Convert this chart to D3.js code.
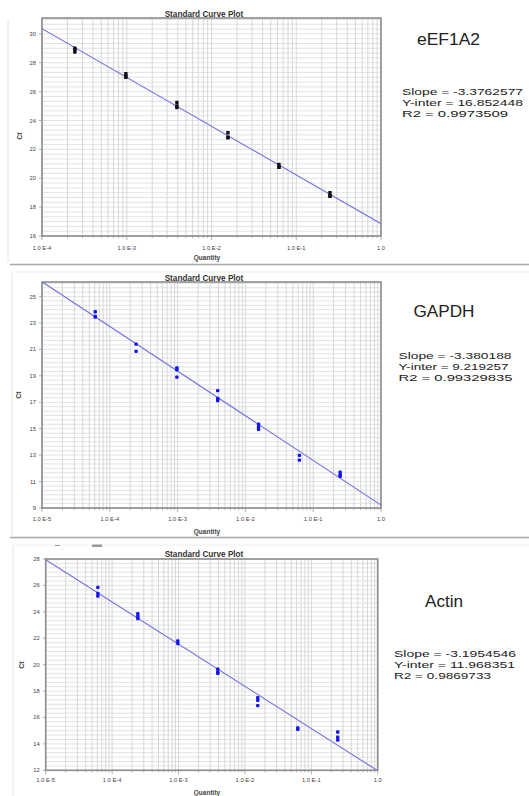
<!DOCTYPE html>
<html><head><meta charset="utf-8">
<script src="https://cdn.jsdelivr.net/npm/d3@7"></script>
<style>html,body{margin:0;padding:0;background:#fff;} svg{display:block;}</style>
</head><body><svg id="c" width="529" height="796"></svg>
<script>
// ---------- data ----------
const geneNames = ["eEF1A2", "GAPDH", "Actin"];
const slopes = [-3.3762577, -3.380188, -3.1954546];
const intercepts = [16.852448, 9.219257, 11.968351];
const r2Values = ["0.9973509", "0.99329835", "0.9869733"];
const slopeText = ["-3.3762577", "-3.380188", "-3.1954546"];
const interText = ["16.852448", "9.219257", "11.968351"];

const qtyEEF = [0.000244140625, 0.0009765625, 0.00390625, 0.015625, 0.0625, 0.25];
const qtyGAPDH = [0.00006103515625, 0.000244140625, 0.0009765625, 0.00390625, 0.015625, 0.0625, 0.25];
const qtyActin = [0.00006103515625, 0.000244140625, 0.0009765625, 0.00390625, 0.015625, 0.0625, 0.25];

const ctEEF = [[28.75, 28.9, 29.0], [27.0, 27.1, 27.25], [25.25, 25.0, 24.9], [23.15, 22.85, 22.8], [20.95, 20.75, 20.8], [19.0, 18.8, 18.75]];
const ctGAPDH = [[23.85, 23.5, 23.45], [21.4, 20.85], [19.6, 19.45, 18.9], [17.88, 17.28, 17.13], [15.35, 15.15, 14.95], [12.98, 12.62], [11.7, 11.5, 11.4]];
const ctActin = [[25.85, 25.4, 25.2], [23.85, 23.65, 23.5], [21.8, 21.6], [19.65, 19.4, 19.35], [17.5, 17.3, 16.9], [15.2, 15.1], [14.9, 14.5, 14.3]];

const xDomEEF = [1e-4, 1];
const xDomGAPDH = [1e-5, 1];
const xDomActin = [1e-5, 1];
const yDomEEF = [16, 31.1];
const yDomGAPDH = [9, 26.1];
const yDomActin = [12, 28];

const yTicksEEF = [16, 18, 20, 22, 24, 26, 28, 30];
const yTicksGAPDH = [9, 11, 13, 15, 17, 19, 21, 23, 25];
const yTicksActin = [12, 14, 16, 18, 20, 22, 24, 26, 28];

const xTickValsEEF = [1e-4, 1e-3, 1e-2, 1e-1, 1];
const xTickLabelsEEF = ["1.0 E-4", "1.0 E-3", "1.0 E-2", "1.0 E-1", "1.0"];
const xTickValsB = [1e-5, 1e-4, 1e-3, 1e-2, 1e-1, 1];
const xTickLabelsB = ["1.0 E-5", "1.0 E-4", "1.0 E-3", "1.0 E-2", "1.0 E-1", "1.0"];

const chartTitle = "Standard Curve Plot";
const xAxisTitle = "Quantity";
const yAxisTitle = "Ct";

// ---------- layout ----------
const panels = [
  {qty: qtyEEF, ct: ctEEF, xd: xDomEEF, yd: yDomEEF, yt: yTicksEEF, xtv: xTickValsEEF, xtl: xTickLabelsEEF, i: 0,
   L: {x0: 42, x1: 381, y0: 18, y1: 236, titleY: 16.5, xlabY: 249.5, qY: 259.5, ctY: 136, ctX: 22},
   color: "#111", T: {nameX: 417, nameY: 45, nameW: 63, sx: 402, sy: 94.5, lw: [121, 121, 106]}},
  {qty: qtyGAPDH, ct: ctGAPDH, xd: xDomGAPDH, yd: yDomGAPDH, yt: yTicksGAPDH, xtv: xTickValsB, xtl: xTickLabelsB, i: 1,
   L: {x0: 42, x1: 381, y0: 282, y1: 508, titleY: 280.5, xlabY: 520.5, qY: 533.5, ctY: 395, ctX: 21},
   color: "#1414f0", T: {nameX: 413.5, nameY: 316.5, nameW: 61, sx: 398.5, sy: 358.5, lw: [113, 110, 114]}},
  {qty: qtyActin, ct: ctActin, xd: xDomActin, yd: yDomActin, yt: yTicksActin, xtv: xTickValsB, xtl: xTickLabelsB, i: 2,
   L: {x0: 45.7, x1: 377.7, y0: 559, y1: 770.3, titleY: 556.5, xlabY: 781.5, qY: 795, ctY: 665, ctX: 24},
   color: "#1414f0", T: {nameX: 425, nameY: 606.5, nameW: 38, sx: 394, sy: 656.5, lw: [122, 121, 97]}}
];

const svg = d3.select("#c");
const FONT = "'Liberation Sans', Arial, Helvetica, sans-serif";

// background
svg.append("rect").attr("width", 529).attr("height", 796).attr("fill", "#fff");

// panel frames / separators (screenshot borders)
svg.append("line").attr("x1", 8).attr("x2", 8).attr("y1", 20).attr("y2", 262).attr("stroke", "#e4e4e4").attr("stroke-width", 1);
svg.append("line").attr("x1", 12).attr("x2", 12).attr("y1", 272).attr("y2", 536).attr("stroke", "#e4e4e4").attr("stroke-width", 1);
svg.append("line").attr("x1", 12).attr("x2", 529).attr("y1", 272).attr("y2", 272).attr("stroke", "#eeeeee").attr("stroke-width", 1);
svg.append("line").attr("x1", 13).attr("x2", 13).attr("y1", 545).attr("y2", 796).attr("stroke", "#e4e4e4").attr("stroke-width", 1);
svg.append("line").attr("x1", 13).attr("x2", 529).attr("y1", 545).attr("y2", 545).attr("stroke", "#eeeeee").attr("stroke-width", 1);
svg.append("line").attr("x1", 10).attr("x2", 529).attr("y1", 264.5).attr("y2", 264.5).attr("stroke", "#a9a9a9").attr("stroke-width", 1.6);
svg.append("line").attr("x1", 10).attr("x2", 529).attr("y1", 537.5).attr("y2", 537.5).attr("stroke", "#a9a9a9").attr("stroke-width", 1.6);
svg.append("line").attr("x1", 55).attr("x2", 60).attr("y1", 545.5).attr("y2", 545.5).attr("stroke", "#999").attr("stroke-width", 1);
svg.append("rect").attr("x", 92).attr("y", 544.5).attr("width", 10).attr("height", 2.5).attr("fill", "#999");

panels.forEach(p => {
  const L = p.L;
  const g = svg.append("g");
  const x = d3.scaleLog().domain(p.xd).range([L.x0, L.x1]);
  const y = d3.scaleLinear().domain(p.yd).range([L.y1, L.y0]);

  const clipId = "clip" + p.i;
  g.append("clipPath").attr("id", clipId).append("rect")
    .attr("x", L.x0).attr("y", L.y0).attr("width", L.x1 - L.x0).attr("height", L.y1 - L.y0);

  // horizontal grid every 1/3 unit
  const nH = Math.floor((p.yd[1] - p.yd[0]) * 3 + 1e-6);
  const hVals = d3.range(0, nH + 1).map(k => p.yd[0] + k / 3);
  g.selectAll(".hg").data(hVals).enter().append("line")
    .attr("x1", L.x0).attr("x2", L.x1)
    .attr("y1", d => y(d)).attr("y2", d => y(d))
    .attr("stroke", "#dcdcdc").attr("stroke-width", 0.8);

  // vertical grid (log)
  const vVals = x.ticks();
  g.selectAll(".vg").data(vVals).enter().append("line")
    .attr("x1", d => x(d)).attr("x2", d => x(d))
    .attr("y1", L.y0).attr("y2", L.y1)
    .attr("stroke", "#d4d4d4").attr("stroke-width", 0.9);

  // tick marks below x axis
  g.selectAll(".xt").data(vVals).enter().append("line")
    .attr("x1", d => x(d)).attr("x2", d => x(d))
    .attr("y1", L.y1).attr("y2", d => L.y1 + (p.xtv.some(v => Math.abs(Math.log10(v) - Math.log10(d)) < 1e-6) ? 4 : 2))
    .attr("stroke", "#a0a0a0").attr("stroke-width", 0.8);
  // tick marks left of y axis
  g.selectAll(".yt").data(p.yt).enter().append("line")
    .attr("x1", L.x0 - 3).attr("x2", L.x0)
    .attr("y1", d => y(d)).attr("y2", d => y(d))
    .attr("stroke", "#a0a0a0").attr("stroke-width", 0.8);

  // frame
  g.append("rect").attr("x", L.x0).attr("y", L.y0)
    .attr("width", L.x1 - L.x0).attr("height", L.y1 - L.y0)
    .attr("fill", "none").attr("stroke", "#8c8c8c").attr("stroke-width", 1.6);

  // regression line
  const lineData = p.xd.map(q => ({q: q, c: slopes[p.i] * Math.log10(q) + intercepts[p.i]}));
  g.append("path").datum(lineData)
    .attr("clip-path", "url(#" + clipId + ")")
    .attr("d", d3.line().x(d => x(d.q)).y(d => y(d.c)))
    .attr("fill", "none").attr("stroke", "#7272e2").attr("stroke-width", 1.1);

  // points
  const pts = [];
  p.qty.forEach((q, k) => p.ct[k].forEach(c => pts.push({q: q, c: c})));
  g.selectAll(".pt").data(pts).enter().append("rect")
    .attr("x", d => x(d.q) - 1.7).attr("y", d => y(d.c) - 1.7)
    .attr("width", 3.4).attr("height", 3.4)
    .attr("rx", p.i === 0 ? 0.3 : 1)
    .attr("fill", p.color);

  // y tick labels
  g.selectAll(".yl").data(p.yt).enter().append("text")
    .attr("x", L.x0 - 6).attr("y", d => y(d) + 2)
    .attr("text-anchor", "end").attr("font-family", FONT).attr("font-size", 5.8)
    .attr("fill", "#444").text(d => d);

  // x tick labels
  g.selectAll(".xl").data(p.xtv).enter().append("text")
    .attr("x", d => x(d)).attr("y", L.xlabY)
    .attr("text-anchor", "middle").attr("font-family", FONT).attr("font-size", 5.8)
    .attr("fill", "#444").text((d, k) => p.xtl[k]);

  // title
  g.append("text").attr("x", 204).attr("y", L.titleY)
    .attr("text-anchor", "middle").attr("font-family", FONT).attr("font-weight", "bold")
    .attr("font-size", 8.2).attr("fill", "#333").text(chartTitle);

  // axis titles
  g.append("text").attr("x", 207).attr("y", L.qY)
    .attr("text-anchor", "middle").attr("font-family", FONT).attr("font-weight", "bold")
    .attr("font-size", 6.5).attr("fill", "#444").text(xAxisTitle);
  g.append("text").attr("transform", "translate(" + L.ctX + "," + L.ctY + ") rotate(-90)")
    .attr("text-anchor", "middle").attr("font-family", FONT).attr("font-weight", "bold")
    .attr("font-size", 7).attr("fill", "#444").text(yAxisTitle);

  // gene name and stats
  const T = p.T;
  g.append("text").attr("x", T.nameX).attr("y", T.nameY)
    .attr("font-family", FONT).attr("font-size", 16).attr("fill", "#222")
    .attr("textLength", T.nameW).attr("lengthAdjust", "spacingAndGlyphs")
    .text(geneNames[p.i]);
  const lines = ["Slope = " + slopeText[p.i], "Y-inter = " + interText[p.i], "R2 = " + r2Values[p.i]];
  lines.forEach((s, k) => {
    g.append("text").attr("x", T.sx).attr("y", T.sy + k * 11.2)
      .attr("font-family", FONT).attr("font-size", 9.6).attr("fill", "#222")
      .attr("textLength", T.lw[k]).attr("lengthAdjust", "spacingAndGlyphs")
      .text(s);
  });
});
</script></body></html>
